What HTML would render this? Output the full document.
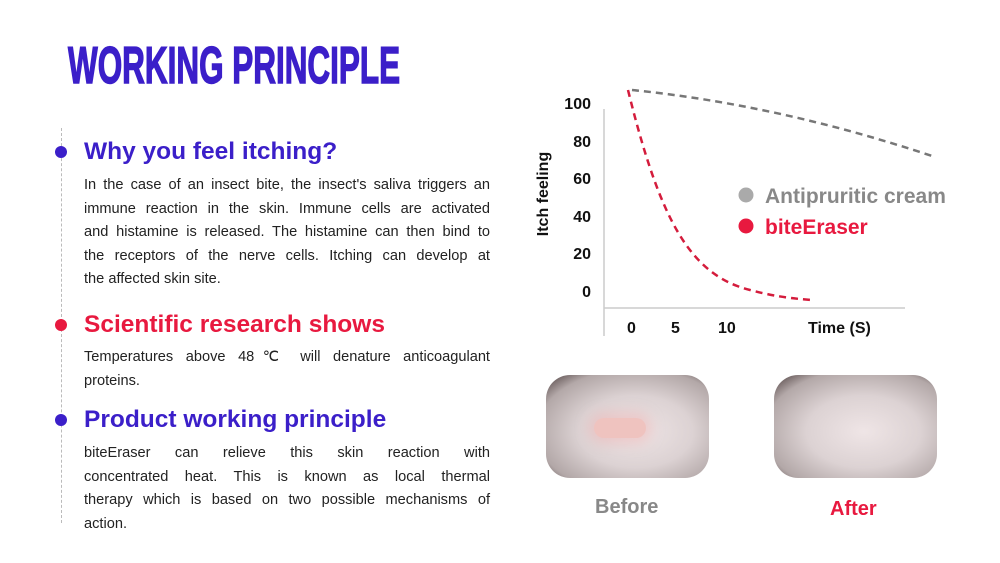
<!DOCTYPE html>
<html><head><meta charset="utf-8"><style>
body{margin:0;width:1000px;height:563px;background:#fff;position:relative;overflow:hidden;font-family:"Liberation Sans",sans-serif;color:#222}
.a{position:absolute}
.title{left:68px;top:36px;font-size:52px;font-weight:bold;color:#3b1fc9;transform:scaleX(0.605);transform-origin:left top;white-space:nowrap;-webkit-text-stroke:1.5px #3b1fc9}
.h{font-size:24.5px;font-weight:bold;left:84px;white-space:nowrap}
.p{left:84px;width:406px;font-size:14.6px;line-height:23.5px;color:#222}
.p div{text-align:justify;text-align-last:justify;white-space:nowrap;height:23.5px}
.p div.l{text-align-last:left}
.dot{width:12px;height:12px;border-radius:50%;left:55px}
.img{border-radius:24px;background:radial-gradient(ellipse at 55% 55%,#efe5e6 0%,#dcd2d3 45%,#b3a8a8 78%,#4a3c3c 100%)}
</style></head><body>
<div class="a title">WORKING PRINCIPLE</div>
<div class="a" style="left:61px;top:128px;height:395px;border-left:1px dashed #bbb"></div>
<div class="a dot" style="top:146px;background:#3b1fc9"></div>
<div class="a dot" style="top:319px;background:#e8193f"></div>
<div class="a dot" style="top:414px;background:#3b1fc9"></div>
<div class="a h" style="top:138px;color:#3b1fc9">Why you feel itching?</div>
<div class="a p" style="top:174px"><div>In the case of an insect bite, the insect's saliva triggers an</div><div>immune reaction in the skin. Immune cells are activated</div><div>and histamine is released. The histamine can then bind to</div><div>the receptors of the nerve cells. Itching can develop at</div><div class="l">the affected skin site.</div></div>
<div class="a h" style="top:311px;color:#e8193f">Scientific research shows</div>
<div class="a p" style="top:346px"><div>Temperatures above 48℃ will denature anticoagulant</div><div class="l">proteins.</div></div>
<div class="a h" style="top:406px;color:#3b1fc9">Product working principle</div>
<div class="a p" style="top:442px"><div>biteEraser can relieve this skin reaction with</div><div>concentrated heat. This is known as local thermal</div><div>therapy which is based on two possible mechanisms of</div><div class="l">action.</div></div>

<svg class="a" style="left:0;top:0" width="1000" height="563">
<line x1="604" y1="109" x2="604" y2="336" stroke="#ccc" stroke-width="1.5"/>
<line x1="604" y1="308" x2="905" y2="308" stroke="#ccc" stroke-width="1.5"/>
<path d="M632 90 Q780 105 935 157" fill="none" stroke="#777" stroke-width="2.5" stroke-dasharray="7,5"/>
<path d="M628 90 C660 220 690 275 750 290 C780 298 800 299 812 300" fill="none" stroke="#d41c3c" stroke-width="2.5" stroke-dasharray="7,5"/>
<circle cx="746" cy="195" r="7.5" fill="#aaa"/>
<circle cx="746" cy="226" r="7.5" fill="#e8193f"/>
<text x="765" y="203" font-size="21" font-weight="bold" fill="#888" font-family="Liberation Sans">Antipruritic cream</text>
<text x="765" y="234" font-size="21" font-weight="bold" fill="#e8193f" font-family="Liberation Sans">biteEraser</text>
<g font-size="16" font-weight="bold" fill="#111" font-family="Liberation Sans" text-anchor="end">
<text x="591" y="109">100</text><text x="591" y="147">80</text><text x="591" y="184">60</text><text x="591" y="222">40</text><text x="591" y="259">20</text><text x="591" y="297">0</text>
</g>
<g font-size="16" font-weight="bold" fill="#111" font-family="Liberation Sans">
<text x="627" y="333">0</text><text x="671" y="333">5</text><text x="718" y="333">10</text><text x="808" y="333">Time (S)</text>
</g>
<text transform="translate(548,194) rotate(-90)" text-anchor="middle" font-size="16" font-weight="bold" fill="#111" font-family="Liberation Sans">Itch feeling</text>
</svg>

<div class="a img" style="left:546px;top:375px;width:163px;height:103px"></div>
<div class="a" style="left:594px;top:418px;width:52px;height:20px;border-radius:10px;background:#efc3bf;box-shadow:0 0 12px 6px rgba(240,180,180,.5)"></div>
<div class="a img" style="left:774px;top:375px;width:163px;height:103px"></div>
<div class="a" style="left:595px;top:496px;font-size:20px;font-weight:bold;color:#888">Before</div>
<div class="a" style="left:830px;top:498px;font-size:20px;font-weight:bold;color:#e8193f">After</div>
</body></html>
